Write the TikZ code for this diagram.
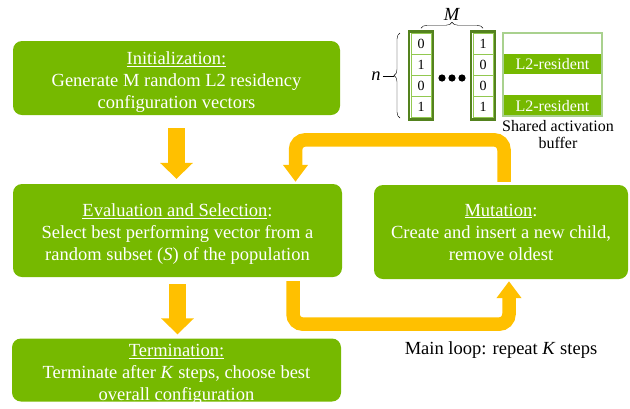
\documentclass[tikz,border=0pt]{standalone}
\usepackage{fontspec}
\setmainfont{Liberation Serif}
\usetikzlibrary{arrows.meta,fit,decorations.pathreplacing}
\definecolor{nvgreen}{RGB}{118,185,0}
\definecolor{loopgold}{RGB}{255,192,0}
\definecolor{coledge}{RGB}{84,130,30}
\definecolor{celledge}{RGB}{146,200,80}
\definecolor{bufedge}{RGB}{169,209,142}
\tikzset{
  stage/.style={rectangle, rounded corners=9pt, fill=nvgreen, inner sep=0pt},
  stagetext/.style={text=white, align=center, inner sep=0pt, font=\fontsize{18.5}{22}\selectfont},
  flow/.style={loopgold, line width=17pt, -{Triangle[width=32pt,length=16pt]}},
  loopflow/.style={loopgold, line width=13.5pt, rounded corners=10pt, -{Triangle[width=24pt,length=17pt]}},
  cell/.style={rectangle, draw=celledge, line width=1pt, fill=white, minimum width=20pt, minimum height=21pt, inner sep=0pt, font=\fontsize{14}{14}\selectfont},
  colbox/.style={draw=coledge, line width=2.5pt, inner sep=1.5pt},
  bufrow/.style={rectangle, minimum width=99pt, minimum height=20.75pt, inner sep=0pt, text=white, font=\fontsize{16}{16}\selectfont},
  plain/.style={font=\fontsize{18.5}{22}\selectfont, inner sep=0pt}
}
\begin{document}
\begin{tikzpicture}[x=1pt,y=-1pt]
\useasboundingbox (0,0) rectangle (630,408);

% stages
\node[stage, minimum width=327pt, minimum height=74pt] (init) at (176.5,78) {};
\node[stage, minimum width=329pt, minimum height=93pt] (eval) at (177.5,230.5) {};
\node[stage, minimum width=254pt, minimum height=94pt] (mutate) at (501,232) {};
\node[stage, minimum width=329pt, minimum height=63pt] (term) at (176.5,370) {};
\node[stagetext] (initText) at ([yshift=-4.5pt]init.center) {\underline{Initialization:}\\Generate M random L2 residency\\configuration vectors};
\node[stagetext] (evalText) at ([yshift=-4pt]eval.center) {\underline{Evaluation and Selection}:\\Select best performing vector from a\\random subset (\textit{S}) of the population};
\node[stagetext] (mutateText) at (mutate.center) {\underline{Mutation}:\\Create and insert a new child,\\remove oldest};
\node[stagetext] (termText) at ([yshift=-4pt]term.center) {\underline{Termination:}\\Terminate after \textit{K} steps, choose best\\overall configuration};
\node[plain] (looplbl) at (501,350) {Main loop: repeat \textit{K} steps};

\draw[flow, shorten <=13pt, shorten >=5pt] (init.south) -- (init.south |- eval.north);
\draw[flow, shorten <=7pt, shorten >=4pt] (eval.south) -- (eval.south |- term.north);
\draw[loopflow, shorten <=4pt, shorten >=2pt] ([xshift=115.5pt]eval.south) -- ++(0,47) -| ([xshift=8pt]mutate.south);
\draw[loopflow, shorten <=3pt, shorten >=2pt] ([xshift=3pt]mutate.north) -- ++(0,-45) -| ([xshift=118pt]eval.north);

% configuration vectors
\node[cell] (c1a) at (421,44) {0};
\node[cell] (c1b) at (421,65) {1};
\node[cell] (c1c) at (421,86) {0};
\node[cell] (c1d) at (421,107) {1};
\node[cell] (c2a) at (483,44) {1};
\node[cell] (c2b) at (483,65) {0};
\node[cell] (c2c) at (483,86) {0};
\node[cell] (c2d) at (483,107) {1};
\node[colbox, fit=(c1a)(c1d)] (col1) {};
\node[colbox, fit=(c2a)(c2d)] (col2) {};
\fill (442,78) circle (3.6pt) (452,78) circle (3.6pt) (462,78) circle (3.6pt);

\draw[decorate, decoration={brace, amplitude=6pt}] ([yshift=2pt]col1.north) -- ([yshift=2pt]col2.north) node[midway, above=8pt, plain] (lblM) {\textit{M}};
\draw[decorate, decoration={brace, amplitude=6pt}] (400,118) -- (400,33);
\node[plain] (lbln) at (376,76) {\textit{n}};
\coordinate (ntip) at (394,76);
\draw (lbln.east) ++(2,0) -- (ntip);

% shared buffer
\node[bufrow] (buf1) at (552.5,43.4) {};
\node[bufrow, fill=nvgreen] (buf2) at (552.5,64.1) {L2-resident};
\node[bufrow] (buf3) at (552.5,84.9) {};
\node[bufrow, fill=nvgreen] (buf4) at (552.5,105.6) {L2-resident};
\node[draw=bufedge, line width=1.5pt, inner sep=0pt, fit=(buf1)(buf4)] (buffer) {};
\node[align=center, inner sep=0pt, font=\fontsize{16}{17}\selectfont, anchor=north] (buflbl) at (558,120) {Shared activation\\buffer};
\end{tikzpicture}
\end{document}
